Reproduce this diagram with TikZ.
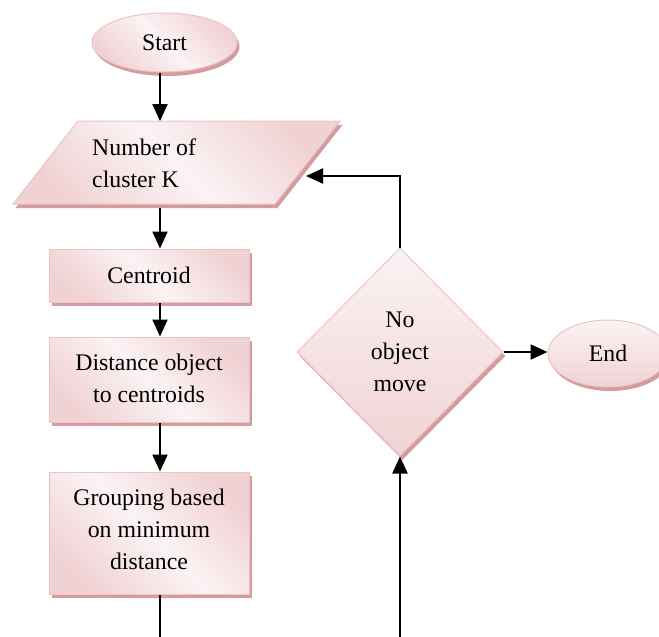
\documentclass[tikz,border=0pt]{standalone}
\usepackage{fontspec}
\setmainfont{Liberation Serif}
\usetikzlibrary{shapes.geometric,shadows,arrows.meta}
\definecolor{pline}{RGB}{236,196,199}
\definecolor{pdark}{RGB}{241,210,212}
\definecolor{plight}{RGB}{251,243,244}
\definecolor{pshadow}{RGB}{211,156,158}
\begin{document}
\begin{tikzpicture}[x=1pt,y=-1pt,
 shd/.style={drop shadow={shadow xshift=2.5pt,shadow yshift=-4pt,fill=pshadow,opacity=1}},
 boxshade/.style={top color=pdark,bottom color=pdark,middle color=plight,shading angle=-45},
 vshade/.style={top color=plight,bottom color=pdark},
 flow/.style={draw=pline,line width=1pt,shd,inner sep=0pt,align=center,font=\fontsize{23.8}{32}\selectfont},
 pbox/.style={flow,boxshade,rectangle,minimum width=200pt},
 arr/.style={line width=2.2pt,-{Triangle[length=17pt,width=15pt]}},
 ln/.style={line width=2.2pt}]
\clip (0,0) rectangle (659,637);
% shapes
\node[flow,ellipse,boxshade,minimum width=145pt,minimum height=59pt] (start) at (164.5,42.5) {Start};
\path[draw=pline,line width=1pt,boxshade,shd] (78,121) -- (340,121) -- (275,204) -- (13,204) -- cycle;
\node[anchor=north west,inner sep=0pt,align=left,font=\fontsize{23.8}{32}\selectfont] (numtxt) at (92,139) {Number of\\cluster K};
\coordinate (ptop) at (160,121);
\coordinate (pbot) at (160,208);
\coordinate (pret) at (306,176);
\node[pbox,minimum height=53pt] (cen) at (149,275.5) {Centroid};
\node[pbox,minimum height=85pt,text depth=3pt] (dist) at (149,379.5) {Distance object\\to centroids};
\node[pbox,minimum height=122pt,text depth=8pt] (grp) at (149,533) {Grouping based\\on minimum\\distance};
\node[flow,diamond,vshade,minimum width=206pt,minimum height=208pt] (dia) at (400,352) {No\\object\\move};
\node[flow,ellipse,vshade,minimum width=120pt,minimum height=67pt] (end) at (608,353.5) {End};
\coordinate (gend) at (160,637);
\coordinate (lbot) at (400,637);
% connectors
\draw[arr] (start.south -| ptop) -- (ptop);
\draw[arr] (pbot) -- (pbot |- cen.north);
\draw[arr] (cen.south -| pbot) -- (pbot |- dist.north);
\draw[arr] (dist.south -| pbot) -- (pbot |- grp.north);
\draw[ln] (grp.south -| pbot) -- (gend);
\draw[arr] (lbot) -- (dia.south);
\draw[arr] (dia.north) |- (pret);
\draw[arr] (dia.east) -- (dia.east -| end.west);
\end{tikzpicture}
\end{document}
